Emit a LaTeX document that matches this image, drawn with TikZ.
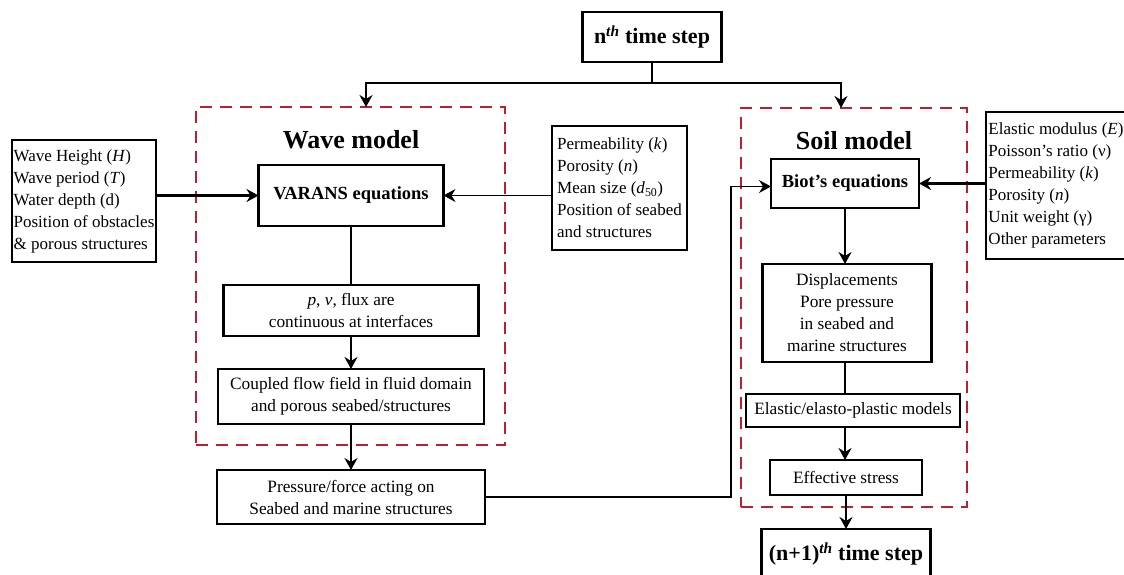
\documentclass[tikz,border=0pt]{standalone}
\usepackage{fontspec}
\setmainfont{Liberation Serif}
\usepackage{tikz}
\usetikzlibrary{arrows.meta,positioning}
\definecolor{framered}{RGB}{190,30,45}

\begin{document}
\begin{tikzpicture}[
x=1pt, y=-1pt,
node distance=0pt,
>={Stealth[length=12pt,width=13pt,inset=4pt]},
    B/.style = {rectangle, draw, line width=2.6pt, align=center,% boxes of the chart
                font=\fontsize{17.3}{22}\selectfont,
                inner sep=2pt, outer sep=0pt},
    T/.style = {B, font=\fontsize{18.5}{22}\selectfont\bfseries},% bold boxes
   IN/.style = {B, align=left, line width=2pt, font=\fontsize{17}{22}\selectfont},% boxes of input data
    F/.style = {draw=framered, line width=2.5pt, dash pattern=on 12pt off 8pt,
                outer sep=0pt},% model frames
   TT/.style = {font=\fontsize{26}{30}\selectfont\bfseries},
    L/.style = {line width=2.6pt},
   TL/.style = {line width=1.3pt},
                        ]
\useasboundingbox (0,0) rectangle (1124,574);
% frames
\node[F, minimum width=309pt, minimum height=338pt] (wave) at (350.5,276) {};
\node[F, minimum width=226pt, minimum height=399pt] (soil) at (854,307.5) {};
\node[TT] (wavetitle) at (351,140) {Wave model};
\node[TT] (soiltitle) at (854,141) {Soil model};
% time steps
\node[T, font=\fontsize{22}{26}\selectfont\bfseries, minimum width=139pt, minimum height=50pt] (now) at (652,37)
    {n\textsuperscript{\textit{th}} time step};
% wave model
\node[T, minimum width=185pt, minimum height=61pt] (varans) at (351,195.5) {VARANS equations};
\node[B, below=59pt of varans, minimum width=255pt, minimum height=51pt] (flux)
    {\textit{p}, \textit{v}, flux are\\continuous at interfaces};
\node[B, below=33pt of flux, minimum width=266pt, minimum height=55pt] (coupled)
    {Coupled flow field in fluid domain\\and porous seabed/structures};
\node[B, below=46pt of coupled, minimum width=268pt, minimum height=54pt] (press)
    {Pressure/force acting on\\Seabed and marine structures};
% soil model
\node[T, minimum width=148pt, minimum height=49pt] (biot) at (845,183.5) {Biot’s equations};
\node[B, below=56pt of biot, xshift=2pt, minimum width=169pt, minimum height=98pt] (disp)
    {Displacements\\Pore pressure\\ in seabed and\\marine structures};
\node[B, below=32pt of disp, xshift=6pt, minimum width=214pt, minimum height=33pt] (elastic)
    {Elastic/elasto-plastic models};
\node[B, below=33pt of elastic, xshift=-7pt, minimum width=152pt, minimum height=35pt] (eff)
    {Effective stress};
\node[T, font=\fontsize{22}{26}\selectfont\bfseries, below=34pt of eff, minimum width=169pt, minimum height=50pt] (next)
    {(n+1)\textsuperscript{\textit{th}} time step};
% input data
\node[IN, minimum width=144pt, minimum height=122pt] (wavein) at (84,201)
    {Wave Height (\textit{H})\\Wave period (\textit{T})\\Water depth (d)\\Position of obstacles\\\& porous structures};
\node[IN, line width=1.8pt, minimum width=135pt, minimum height=124pt] (porin) at (619.5,188)
    {Permeability (\textit{k})\\Porosity (\textit{n})\\Mean size (\textit{d}\textsubscript{50})\\Position of seabed\\and structures};
\node[IN, line width=2.6pt, minimum width=140pt, minimum height=147pt] (soilin) at (1056,185.5)
    {Elastic modulus (\textit{E})\\Poisson’s ratio (ν)\\Permeability (\textit{k})\\Porosity (\textit{n})\\Unit weight (γ)\\Other parameters};
% connectors
\coordinate (wl) at (366,83);
\coordinate (sl) at (841,83);
\draw[L] (now.south) -- (now.south |- wl);
\draw[L,<->] (wl |- wave.north) -- (wl) -- (sl) -- (sl |- soil.north);
\draw[L,->] (varans.west -| wavein.east) -- (varans.west);
\draw[TL,->] (varans.east -| porin.west) -- (varans.east);
\draw[L] (varans.south) -- (flux.north);
\draw[L,->] (flux.south) -- (coupled.north);
\draw[L,->] (coupled.south) -- (press.north);
\path (biot.west) ++(-40,3) coordinate (bend);
\draw[TL,->] (press.east) -| (bend) -- (bend -| biot.west);
\draw[L,->] (biot.east -| soilin.west) -- (biot.east);
\draw[L,->] (biot.south) -- (biot.south |- disp.north);
\draw[L] (biot.south |- disp.south) -- (biot.south |- elastic.north);
\draw[L,->] (biot.south |- elastic.south) -- (biot.south |- eff.north);
\draw[L,->] (eff.south) -- (next.north);
\end{tikzpicture}
\end{document}
